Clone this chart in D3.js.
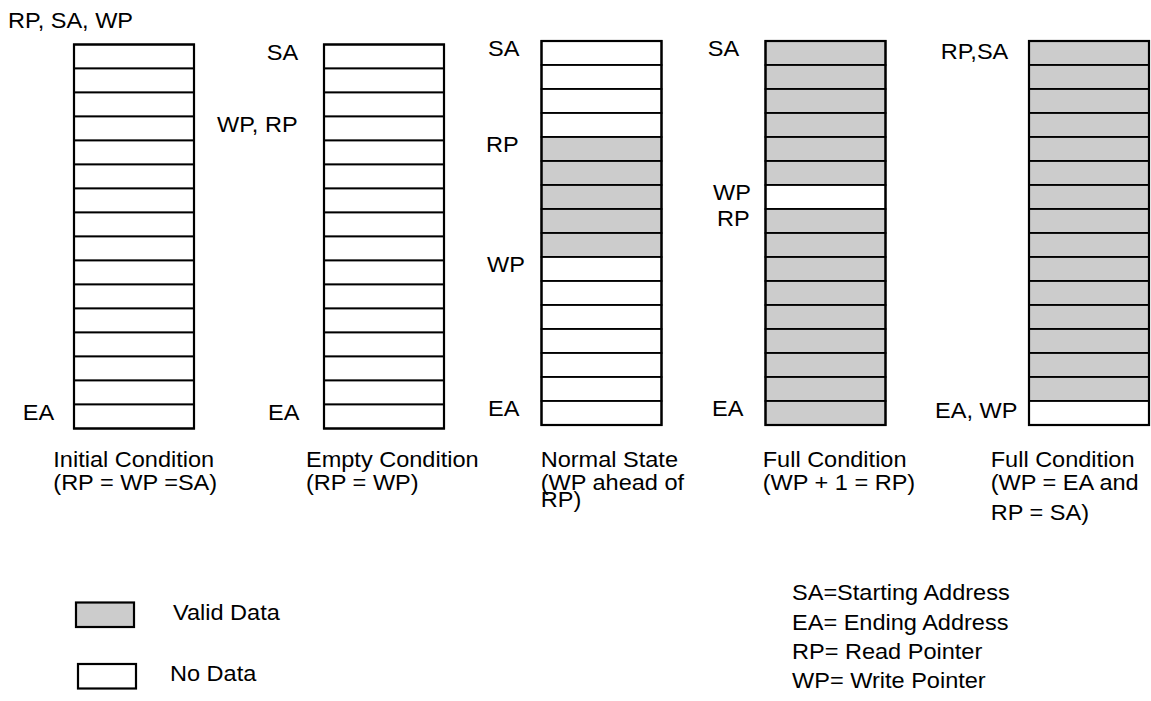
<!DOCTYPE html>
<html><head><meta charset="utf-8">
<script src="https://cdn.jsdelivr.net/npm/d3@7"></script>
<style>html,body{margin:0;padding:0;background:#fff;} svg{display:block;}</style>
</head><body><svg id="c" width="1151" height="701"></svg>
<script>
// ---------------- DATA ----------------
const rowIndex = d3.range(16); // 16 FIFO locations, SA (0) .. EA (15)
const stateNames = ["Initial Condition", "Empty Condition", "Normal State", "Full Condition", "Full Condition"];
const conditionLines = [
  ["(RP = WP =SA)"],
  ["(RP = WP)"],
  ["(WP ahead of", "RP)"],
  ["(WP + 1 = RP)"],
  ["(WP = EA and", "RP = SA)"]
];
// 1 = Valid Data (shaded), 0 = No Data
const validData = [
  [0,0,0,0,0,0,0,0,0,0,0,0,0,0,0,0],
  [0,0,0,0,0,0,0,0,0,0,0,0,0,0,0,0],
  [0,0,0,0,1,1,1,1,1,0,0,0,0,0,0,0],
  [1,1,1,1,1,1,0,1,1,1,1,1,1,1,1,1],
  [1,1,1,1,1,1,1,1,1,1,1,1,1,1,1,0]
];
const pointerText = [
  ["RP, SA, WP", "EA"],
  ["SA", "WP, RP", "EA"],
  ["SA", "RP", "WP", "EA"],
  ["SA", "WP", "RP", "EA"],
  ["RP,SA", "EA, WP"]
];
const pointerRow = [
  [-1, 15],
  [0, 3, 15],
  [0, 4, 9, 15],
  [0, 6, 7, 15],
  [0, 15]
];
const legendLabels = ["Valid Data", "No Data"];
const legendValues = [1, 0];
const abbreviations = ["SA=Starting Address", "EA= Ending Address", "RP= Read Pointer", "WP= Write Pointer"];

// ---------------- LAYOUT ----------------
const boxLeft = [74, 324, 541.5, 765.5, 1029];
const boxTop = [44.5, 44.5, 41, 41, 41];
const boxW = 120, rowH = 24;
const pointerX = [[8, 22.7], [266.7, 217, 268], [488, 486, 487, 488], [707.7, 713, 717, 712], [940.7, 935]];
const pointerDy = [[-7.5, 0], [0, 0, 0], [0, 0, 0, 0], [0, 0, 2, 0], [3, 2]];
const captionX = [53.3, 306, 540.7, 762.7, 990.7];
const captionY = [[467, 490], [467, 490], [467, 490, 507], [467, 490], [467, 490, 520]];
const FONT = "'Liberation Sans', Arial, Helvetica, sans-serif";
const FS = 22, SX = 1.07;
const fillColor = {1: "#cccccc", 0: "#ffffff"};

const svg = d3.select("#c");

function addText(g, str, x, y) {
  g.append("text")
    .attr("transform", `translate(${x},${y}) scale(${SX},1)`)
    .attr("font-family", FONT)
    .attr("font-size", FS)
    .attr("fill", "#000")
    .text(str);
}

stateNames.forEach((name, i) => {
  const y = d3.scaleBand().domain(rowIndex).range([boxTop[i], boxTop[i] + rowH * rowIndex.length]);
  const g = svg.append("g");
  g.selectAll("rect.cell")
    .data(rowIndex)
    .join("rect")
    .attr("class", "cell")
    .attr("x", boxLeft[i])
    .attr("y", r => y(r))
    .attr("width", boxW)
    .attr("height", y.bandwidth())
    .attr("fill", r => fillColor[validData[i][r]])
    .attr("stroke", "#000")
    .attr("stroke-width", 1.8);
  g.append("rect")
    .attr("x", boxLeft[i]).attr("y", y.range()[0])
    .attr("width", boxW).attr("height", y.range()[1] - y.range()[0])
    .attr("fill", "none").attr("stroke", "#000").attr("stroke-width", 2.2);

  pointerText[i].forEach((t, j) => {
    const r = pointerRow[i][j];
    const top = r < 0 ? y(0) + r * rowH : y(r);
    addText(g, t, pointerX[i][j], top + 15 + pointerDy[i][j]);
  });

  [name].concat(conditionLines[i]).forEach((line, k) => {
    addText(g, line, captionX[i], captionY[i][k]);
  });
});

// legend
const legBoxX = [76, 78], legBoxY = [602.5, 664], legTextX = [173, 170], legTextY = [620, 681];
legendLabels.forEach((lab, i) => {
  svg.append("rect")
    .attr("x", legBoxX[i]).attr("y", legBoxY[i])
    .attr("width", 58).attr("height", 24.5)
    .attr("fill", fillColor[legendValues[i]])
    .attr("stroke", "#000").attr("stroke-width", 2.2);
  addText(svg, lab, legTextX[i], legTextY[i]);
});

const abbrY = [600, 630, 659, 688];
abbreviations.forEach((a, i) => addText(svg, a, 792, abbrY[i]));
</script>
</body></html>
